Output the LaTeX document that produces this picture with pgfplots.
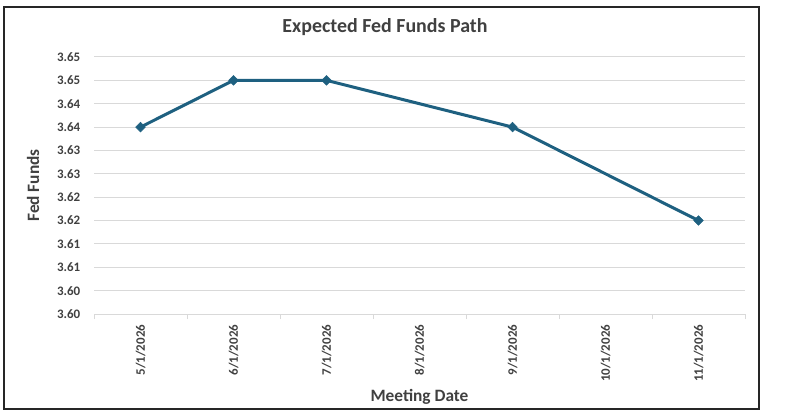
\documentclass[border=0pt]{standalone}
\usepackage{fontspec}
\setmainfont{Carlito}
\usepackage{pgfplots}
\pgfplotsset{compat=1.18}
\definecolor{linec}{RGB}{30,96,128}
\definecolor{gridc}{RGB}{217,217,217}
\definecolor{txtc}{RGB}{64,64,64}
\begin{document}
\begin{tikzpicture}
\path[use as bounding box] (0,0) rectangle (810bp,415bp);
\draw[black!85, line width=1.4bp] (4bp,6bp) rectangle (759bp,408bp);
\begin{axis}[
  at={(94bp,101bp)}, anchor=south west,
  scale only axis, width=651bp, height=257bp,
  xmin=-0.5, xmax=6.5, ymin=3.600, ymax=3.655,
  xtick={0,...,6},
  xticklabels={5/1/2026,6/1/2026,7/1/2026,8/1/2026,9/1/2026,10/1/2026,11/1/2026},
  minor xtick={-0.5,0.5,...,6.5},
  ytick={3.600,3.605,3.610,3.615,3.620,3.625,3.630,3.635,3.640,3.645,3.650,3.655},
  yticklabels={3.60,3.60,3.61,3.61,3.62,3.62,3.63,3.63,3.64,3.64,3.65,3.65},
  axis lines*=left,
  x axis line style={gridc, line width=1bp, -},
  y axis line style={draw=none},
  major x tick style={draw=none},
  minor x tick style={gridc, line width=1bp},
  minor tick length=5bp,
  ytick style={draw=none},
  tick align=outside,
  ymajorgrids, grid style={gridc, line width=1bp},
  x tick label style={rotate=90, anchor=east, font=\fontsize{13}{13}\selectfont\bfseries, text=txtc, xshift=-3bp},
  y tick label style={font=\fontsize{13}{13}\selectfont\bfseries, text=txtc, xshift=-6bp},
  title={Expected Fed Funds Path},
  title style={at={(axis description cs:0.447,1)}, anchor=center, yshift=24bp, font=\fontsize{20}{20}\selectfont\bfseries, text=txtc},
  xlabel={Meeting Date},
  xlabel style={at={(axis description cs:0.5,0)}, anchor=center, yshift=-83bp, font=\fontsize{17.4}{17.4}\selectfont\bfseries, text=txtc},
  ylabel={Fed Funds},
  ylabel style={at={(axis description cs:-0.0937,0.5)}, anchor=center, font=\fontsize{17.4}{17.4}\selectfont\bfseries, text=txtc},
  clip=false,
]
\addplot[linec, line width=3bp, mark=square*, mark size=3.4bp, mark options={solid, fill=linec, rotate=45, line width=0.5bp}] coordinates {
(0,3.640) (1,3.650) (2,3.650) (4,3.640) (6,3.620)
};
\end{axis}
\end{tikzpicture}
\end{document}
